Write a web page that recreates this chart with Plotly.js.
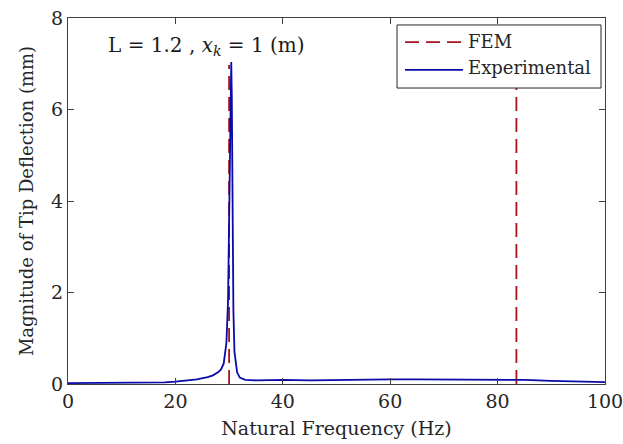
<!DOCTYPE html>
<html><head><meta charset="utf-8">
<script src="https://cdn.plot.ly/plotly-3.0.1.min.js"></script>
<style>html,body{margin:0;padding:0;background:#fff}</style>
</head><body><div id="chart" style="width:623px;height:444px"></div>
<script>
const femFreq = [30.0, 83.5];
const femTop = [6.97, 6.97];
const expFreq = [0,5,10,15,18,20,22,24,26,27,28,28.5,29,29.5,29.8,30,30.1,30.2,30.3,30.4,30.5,30.6,30.8,31,31.5,32,33,35,40,45,50,55,60,65,70,75,80,85,90,95,100];
const expMag = [0.02,0.02,0.02,0.025,0.035,0.05,0.07,0.1,0.15,0.19,0.26,0.32,0.45,0.9,1.8,3.5,4.8,6.0,6.8,7.04,6.3,4.2,1.6,0.7,0.25,0.14,0.09,0.08,0.09,0.08,0.09,0.09,0.1,0.1,0.1,0.1,0.1,0.09,0.07,0.06,0.04];
const xTicks = [0,20,40,60,80,100];
const yTicks = [0,2,4,6,8];
const legendNames = ['FEM', 'Experimental'];

const femX = [], femY = [];
femFreq.forEach((f,i)=>{ femX.push(f,f,null); femY.push(0,femTop[i],null); });

const red = '#a8141e', blue = '#0a0aa8', ink = '#262626';
const font = 'DejaVu Serif, Liberation Serif, serif';
const axisCommon = {
  showgrid:false, zeroline:false, showline:true, mirror:'ticks',
  linecolor:'#404040', linewidth:1.3, ticks:'inside', ticklen:6, tickcolor:'#404040',
  tickfont:{family:font, size:19, color:ink}, ticklabeloverflow:'allow'
};
Plotly.newPlot('chart', [
  {x:femX, y:femY, mode:'lines', name:legendNames[0], line:{color:red, width:1.8, dash:'14px,7px'}, showlegend:false},
  {x:expFreq, y:expMag, mode:'lines', name:legendNames[1], line:{color:blue, width:1.8}, showlegend:false}
], {
  width:623, height:444,
  margin:{l:68, r:18, t:18, b:60},
  paper_bgcolor:'#fff', plot_bgcolor:'#fff',
  showlegend:false,
  xaxis:Object.assign({}, axisCommon, {range:[0,100], tickvals:xTicks, ticktext:xTicks.map(String),
    title:{text:'Natural Frequency (Hz)', font:{family:font, size:19, color:ink}, standoff:10}}),
  yaxis:Object.assign({}, axisCommon, {range:[0,8], tickvals:yTicks, ticktext:yTicks.map(String),
    title:{text:'Magnitude of Tip Deflection (mm)', font:{family:font, size:18, color:ink}, standoff:12}}),
  shapes:[
    {type:'rect', xref:'paper', yref:'paper', x0:0.6127, x1:0.9926, y0:0.8087, y1:0.981,
     fillcolor:'#fff', line:{color:ink, width:1}, layer:'above'},
    {type:'line', xref:'paper', yref:'paper', x0:0.6276, x1:0.7356, y0:0.934, y1:0.934,
     line:{color:red, width:1.8, dash:'14px,7px'}, layer:'above'},
    {type:'line', xref:'paper', yref:'paper', x0:0.6276, x1:0.7356, y0:0.858, y1:0.858,
     line:{color:blue, width:1.8}, layer:'above'}
  ],
  annotations:[
    {xref:'paper', yref:'paper', x:0.070, y:0.924, xanchor:'left', yanchor:'middle', showarrow:false,
     text:'L&nbsp;=&nbsp;1.2 ,&nbsp;<i>x</i><sub><i>k</i></sub>&nbsp;=&nbsp;1&nbsp;(m)', font:{family:font, size:20, color:'#1a1a1a'}},
    {xref:'paper', yref:'paper', x:0.741, y:0.936, xanchor:'left', yanchor:'middle', showarrow:false,
     text:legendNames[0], font:{family:font, size:18, color:ink}},
    {xref:'paper', yref:'paper', x:0.741, y:0.865, xanchor:'left', yanchor:'middle', showarrow:false,
     text:legendNames[1], font:{family:font, size:18, color:ink}}
  ]
}, {displayModeBar:false});
</script></body></html>
